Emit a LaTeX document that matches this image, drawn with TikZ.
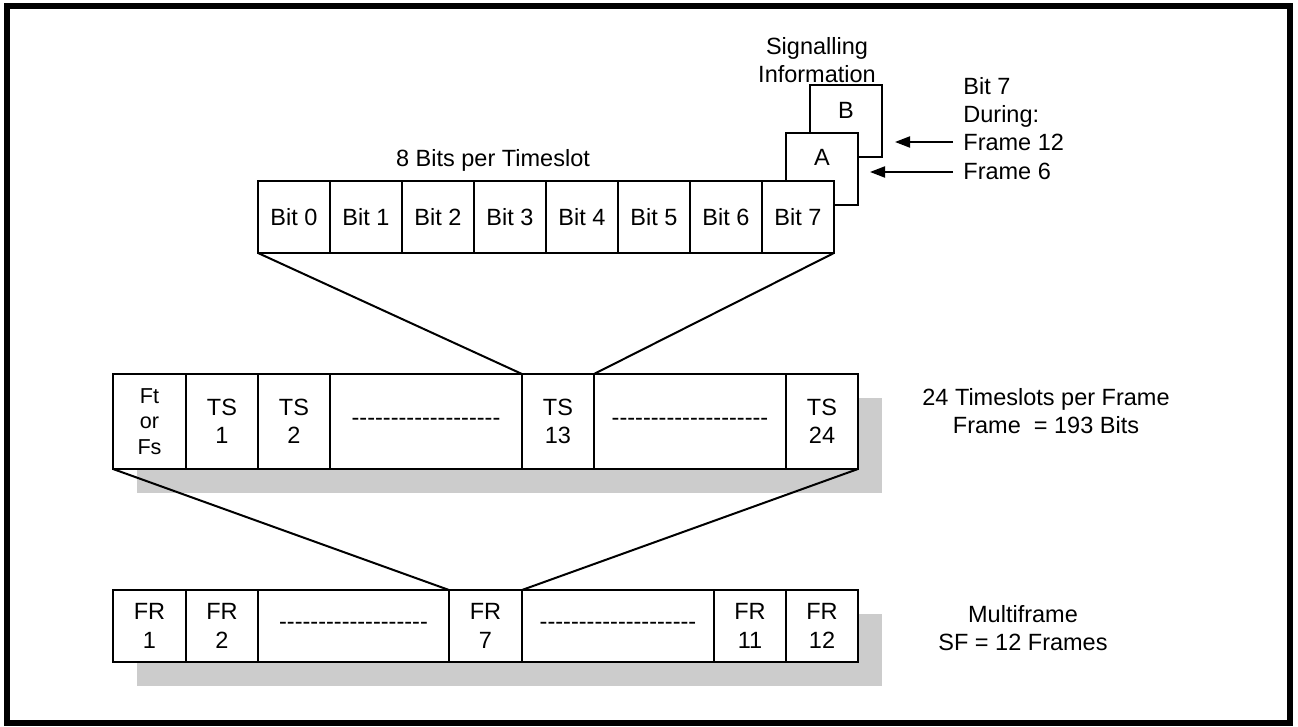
\documentclass[tikz,border=0pt]{standalone}
\usepackage{fontspec}
\setmainfont{Liberation Sans}
\usetikzlibrary{arrows.meta}
\newcommand{\dashfill}[1]{\foreach \k in {1,...,#1}{-\kern0pt}}
\begin{document}
\begin{tikzpicture}[x=0.5pt,y=-0.5pt,font=\fontsize{11.75}{14.1}\selectfont,
    cell/.style={draw,fill=white,line width=1pt,inner sep=0pt,outer sep=0pt,minimum width=36pt,minimum height=36pt,align=center},
    tall/.style={cell,minimum height=47.5pt},
    shadow/.style={fill=black!20},
    link/.style={line width=1pt},
    sigarrow/.style={line width=1pt,-{Triangle[length=7.5pt,width=5.5pt]}},
    txt/.style={inner sep=0pt,align=center}]
  \useasboundingbox (0,0) rectangle (1298,727);
  \draw[line width=3pt] (7,6) rectangle (1290,723);

  % signalling bits behind bit 7
  \node[cell] (sigB) at (846,121) {};
  \node (labB) at (846,110) {B};
  \node[cell] (sigA) at (822,169) {};
  \node (labA) at (822,157) {A};
  \node[txt] (sigTitle) at (817,60.5) {Signalling\\Information};
  \node[txt,align=left,anchor=west] (during) at (963,128.5) {Bit 7\\During:\\Frame 12\\Frame 6};
  \coordinate (fromB) at (953,142);
  \coordinate (fromA) at (953,172);
  \draw[sigarrow,shorten >=6.5pt] (fromB) -- (fromB -| sigB.east);
  \draw[sigarrow,shorten >=6pt] (fromA) -- (fromA -| sigA.east);

  % timeslot
  \node[txt,anchor=base] (bitsTitle) at (493,167) {8 Bits per Timeslot};
  \foreach \i in {0,...,7}
    \node[cell] (bit\i) at (294+72*\i,217) {Bit \i};

  % frame
  \fill[shadow] (137,398) rectangle (882,493);
  \node[tall,minimum width=36.5pt,font=\fontsize{10.8}{12.75}\selectfont] (ft) at (149.5,421.5) {Ft\\or\\Fs};
  \node[tall] (ts1) at (222,421.5) {TS\\1};
  \node[tall] (ts2) at (294,421.5) {TS\\2};
  \node[tall,minimum width=96pt] (tsgap1) at (426,421.5) {\dashfill{19}};
  \node[tall] (ts13) at (558,421.5) {TS\\13};
  \node[tall,minimum width=96pt] (tsgap2) at (690,421.5) {\dashfill{20}};
  \node[tall] (ts24) at (822,421.5) {TS\\24};
  \node[txt] (frameNote) at (1046,411.5) {24 Timeslots per Frame\\Frame ~= 193 Bits};

  % multiframe
  \fill[shadow] (137,614) rectangle (882,686);
  \node[cell,minimum width=36.5pt] (fr1) at (149.5,626) {FR\\1};
  \node[cell] (fr2) at (222,626) {FR\\2};
  \node[cell,minimum width=95.5pt] (frgap1) at (353.5,626) {\dashfill{19}};
  \node[cell,minimum width=36.5pt] (fr7) at (485.5,626) {FR\\7};
  \node[cell,minimum width=96pt] (frgap2) at (618,626) {\dashfill{20}};
  \node[cell] (fr11) at (750,626) {FR\\11};
  \node[cell] (fr12) at (822,626) {FR\\12};
  \node[txt] (multiNote) at (1023,628) {Multiframe\\SF = 12 Frames};

  \foreach \a/\b in {bit0.south west/ts13.north west, bit7.south east/ts13.north east,
                     ft.south west/fr7.north west, ts24.south east/fr7.north east}
    \draw[link] (\a) -- (\b);
\end{tikzpicture}
\end{document}
